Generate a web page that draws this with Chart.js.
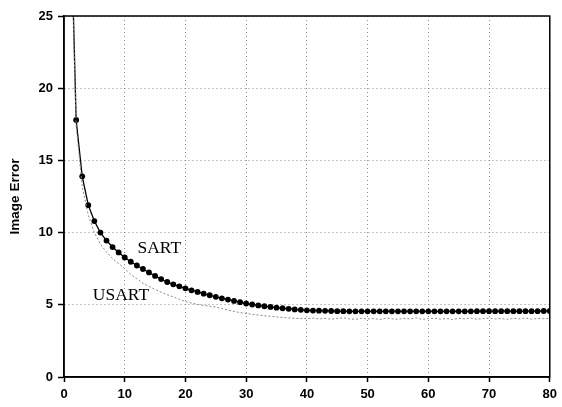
<!DOCTYPE html>
<html>
<head>
<meta charset="utf-8">
<script src="https://cdn.jsdelivr.net/npm/chart.js@4"></script>
<style>
html,body{margin:0;padding:0;background:#fff;}
#wrap{width:562px;height:407px;position:relative;}
</style>
</head>
<body>
<div id="wrap"><canvas id="c" width="562" height="407"></canvas></div>
<script>
const iterations = Array.from({length: 80}, (_, i) => i + 1);
const sartValues = [
  34.0, 17.8, 13.9, 11.9, 10.8, 10.0, 9.45, 9.0, 8.63, 8.28,
  7.98, 7.72, 7.48, 7.24, 7.0, 6.78, 6.58, 6.42, 6.28, 6.14,
  6.0, 5.89, 5.77, 5.66, 5.55, 5.45, 5.36, 5.27, 5.18, 5.09,
  5.02, 4.96, 4.9, 4.85, 4.8, 4.76, 4.72, 4.68, 4.65, 4.62,
  4.6, 4.59, 4.58, 4.57, 4.56, 4.56, 4.55, 4.55, 4.55, 4.55,
  4.55, 4.55, 4.55, 4.55, 4.55, 4.55, 4.55, 4.55, 4.55, 4.55,
  4.55, 4.55, 4.55, 4.55, 4.55, 4.55, 4.55, 4.56, 4.56, 4.56,
  4.56, 4.56, 4.56, 4.56, 4.56, 4.56, 4.56, 4.56, 4.57, 4.57
];
const usartValues = [
  33.0, 17.4, 13.2, 11.2, 10.0, 9.2, 8.65, 8.2, 7.85, 7.5,
  7.1, 6.8, 6.5, 6.28, 6.06, 5.87, 5.7, 5.55, 5.38, 5.22,
  5.12, 5.03, 4.95, 4.9, 4.84, 4.74, 4.64, 4.54, 4.46, 4.4,
  4.34, 4.29, 4.24, 4.2, 4.16, 4.12, 4.09, 4.06, 4.05, 4.04,
  4.08, 4.02, 4.06, 4.0, 4.05, 4.1, 4.03, 3.99, 4.07, 4.02,
  4.05, 3.98, 4.08, 4.03, 4.0, 4.06, 4.02, 4.09, 3.99, 4.04,
  4.07, 4.01, 4.05, 3.98, 4.06, 4.03, 4.08, 4.0, 4.04, 4.07,
  4.02, 4.05, 3.99, 4.06, 4.03, 4.08, 4.01, 4.05, 4.04, 4.06
];
const xTicks = [0, 10, 20, 30, 40, 50, 60, 70, 80];
const yTicks = [0, 5, 10, 15, 20, 25];
const seriesLabels = [
  {text: 'SART', x: 12.1, y: 8.9},
  {text: 'USART', x: 4.75, y: 5.65}
];

const toPoints = (vals) => vals.map((v, i) => ({x: iterations[i], y: v}));
const tickFont = {family: '"Liberation Sans", Arial, sans-serif', size: 13, weight: 'bold'};

const framePlugin = {
  id: 'frame',
  afterDatasetsDraw(chart) {
    const {ctx, chartArea: a, scales} = chart;
    ctx.save();
    ctx.strokeStyle = '#000';
    ctx.lineWidth = 1.5;
    ctx.strokeRect(a.left, a.top, a.right - a.left, a.bottom - a.top);
    ctx.fillStyle = '#000';
    ctx.font = '17.5px "Liberation Serif", "Times New Roman", serif';
    ctx.textAlign = 'left';
    ctx.textBaseline = 'middle';
    seriesLabels.forEach(l => {
      ctx.fillText(l.text, scales.x.getPixelForValue(l.x), scales.y.getPixelForValue(l.y));
    });
    ctx.restore();
  }
};

new Chart(document.getElementById('c'), {
  type: 'line',
  data: {
    datasets: [
      {
        label: 'USART',
        data: toPoints(usartValues),
        borderColor: '#8a8a8a',
        borderWidth: 1,
        borderDash: [2, 2],
        pointRadius: 0,
        tension: 0
      },
      {
        label: 'SART',
        data: toPoints(sartValues),
        borderColor: '#000',
        borderWidth: 1.3,
        pointRadius: 2.9,
        pointBackgroundColor: '#000',
        pointBorderColor: '#000',
        pointBorderWidth: 0,
        tension: 0
      }
    ]
  },
  options: {
    responsive: false,
    animation: false,
    devicePixelRatio: 1,
    layout: {padding: {top: 16, right: 7, left: 0, bottom: 0}},
    plugins: {legend: {display: false}, tooltip: {enabled: false}},
    scales: {
      x: {
        type: 'linear',
        min: 0, max: 80,
        afterBuildTicks: (s) => { s.ticks = xTicks.map(v => ({value: v})); },
        afterFit: (s) => { s.height = 30; },
        grid: {
          color: '#8a8a8a', lineWidth: 1, tickColor: '#000', tickLength: 5,
          tickBorderDash: [], tickWidth: 1.5
        },
        border: {display: true, color: '#000', width: 1.5, dash: [1, 3]},
        ticks: {color: '#000', padding: 5, maxRotation: 0, font: tickFont}
      },
      y: {
        type: 'linear',
        min: 0, max: 25,
        afterBuildTicks: (s) => { s.ticks = yTicks.map(v => ({value: v})); },
        afterFit: (s) => { s.width = 64; },
        grid: {
          color: '#8a8a8a', lineWidth: 1, tickColor: '#000', tickLength: 6,
          tickBorderDash: [], tickWidth: 1.5
        },
        border: {display: true, color: '#000', width: 1.5, dash: [1, 3]},
        title: {display: true, text: 'Image Error', color: '#000', padding: {top: 7, bottom: 4},
          font: {family: '"Liberation Sans", Arial, sans-serif', size: 13.5, weight: 'bold'}},
        ticks: {color: '#000', padding: 5, font: tickFont}
      }
    }
  },
  plugins: [framePlugin]
});
</script>
</body>
</html>
